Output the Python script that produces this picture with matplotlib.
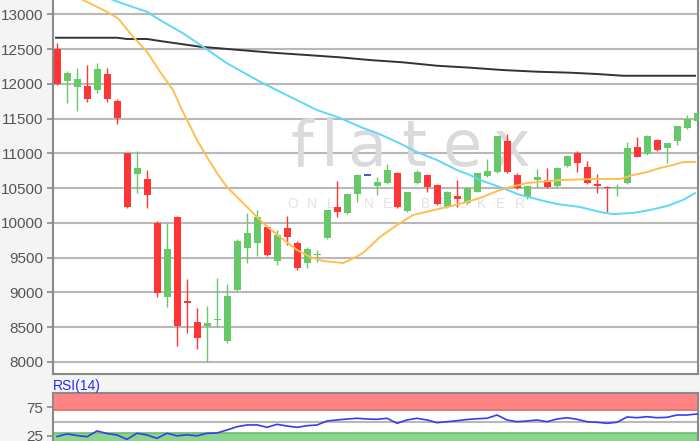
import matplotlib
matplotlib.use('Agg')
import matplotlib.pyplot as plt
import numpy as np

# ---------------- data ----------------
opens = [12500, 12045, 11950, 11975, 11910, 12140, 11757, 11000, 10700, 10630,
         10000, 8930, 10090, 8870, 8575, 8515, 8610, 8300, 9035, 9637,
         9710, 9940, 9450, 9925, 9710, 9420, 9545, 9780, 10225, 10140,
         10415, 10690, 10530, 10570, 10715, 10170, 10570, 10690, 10545, 10225,
         10385, 10285, 10450, 10675, 10730, 11175, 10690, 10370, 10610, 10615,
         10530, 10815, 11005, 10800, 10555, 10520, 10510, 10570, 11090, 10990,
         11190, 11075, 11175, 11365, 11465]
closes = [12000, 12160, 12065, 11780, 12215, 11780, 11505, 10230, 10785, 10400,
          8985, 9625, 8515, 8860, 8345, 8555, 8625, 8950, 9740, 9853,
          10085, 9535, 9825, 9795, 9350, 9620, 9555, 10185, 10155, 10415,
          10690, 10690, 10585, 10760, 10225, 10445, 10730, 10515, 10270, 10445,
          10340, 10500, 10710, 10745, 11250, 10730, 10500, 10530, 10655, 10515,
          10790, 10960, 10860, 10570, 10530, 10510, 10530, 11075, 10945, 11250,
          11045, 11150, 11390, 11490, 11580]
highs = [12590, 12185, 12225, 12275, 12295, 12225, 11780, 11000, 11040, 10760,
         10030, 10000, 10100, 9185, 8770, 8805, 9200, 9120, 9765, 10140,
         10185, 9960, 9895, 10100, 9740, 9650, 9610, 10190, 10600, 10420,
         10700, 10690, 10660, 10845, 10730, 10450, 10760, 10700, 10555, 10455,
         10615, 10510, 10720, 10915, 11255, 11280, 10710, 10545, 10775, 10790,
         10800, 10970, 11035, 10890, 10700, 10525, 10560, 11160, 11235, 11260,
         11200, 11155, 11400, 11550, 11600]
lows = [11980, 11720, 11610, 11740, 11870, 11740, 11420, 10210, 10425, 10210,
        8930, 8795, 8230, 8420, 8180, 8000, 8505, 8275, 9020, 9420,
        9520, 9520, 9390, 9680, 9320, 9350, 9435, 9770, 10085, 10130,
        10300, 10690, 10400, 10555, 10215, 10160, 10560, 10445, 10260, 10215,
        10230, 10270, 10440, 10665, 10720, 10715, 10490, 10340, 10515, 10505,
        10520, 10805, 10730, 10555, 10430, 10155, 10385, 10560, 10940, 10980,
        11040, 10860, 11120, 11350, 11455]

# moving averages (candle index, value)
ma_fast_x = [1.3, 2.6, 5.0, 6.1, 7.6, 9.0, 10.3, 11.6, 12.5, 13.0, 14.0, 15.0, 16.0, 17.0,
             18.0, 20.6, 22.3, 24.0, 25.3, 26.6, 28.6, 29.3, 30.6, 32.3, 34.0, 35.6, 37.3,
             39.0, 40.6, 42.3, 44.3, 45.3, 47.0, 50.3, 53.6, 56.3, 57.6, 59.0, 60.3, 61.6,
             62.6, 63.8]
ma_fast_y = [13321, 13206, 13037, 12942, 12678, 12462, 12174, 11911, 11623, 11479, 11191,
             10946, 10716, 10514, 10371, 9997, 9796, 9609, 9508, 9450, 9421, 9465, 9565,
             9796, 9968, 10112, 10170, 10227, 10285, 10357, 10472, 10514, 10572, 10616,
             10630, 10630, 10687, 10730, 10788, 10831, 10874, 10874]

ma_mid_x = [4.3, 5.6, 7.0, 9.0, 10.0, 12.6, 14.6, 17.0, 20.3, 23.3, 26.0, 28.3, 30.6, 32.0,
            34.0, 36.0, 38.0, 40.0, 41.3, 42.3, 44.3, 46.3, 48.3, 50.0, 52.3, 54.3, 55.6,
            57.6, 59.3, 61.0, 62.6, 63.8]
ma_mid_y = [13292, 13206, 13134, 13037, 12942, 12727, 12534, 12295, 12030, 11814, 11623,
            11508, 11364, 11292, 11162, 11018, 10903, 10759, 10687, 10616, 10514, 10400,
            10328, 10270, 10227, 10155, 10126, 10141, 10184, 10241, 10328, 10428]

ma_slow_x = [-0.1, 6.0, 7.0, 9.0, 10.3, 14.3, 18.3, 21.6, 25.0, 28.3, 31.3, 34.6, 38.0,
             41.3, 44.6, 48.0, 51.3, 54.0, 56.6, 63.8]
ma_slow_y = [12663, 12663, 12645, 12645, 12616, 12534, 12486, 12447, 12414, 12381, 12342,
             12309, 12260, 12232, 12198, 12174, 12160, 12141, 12116, 12116]

rsi = [23.4, 27.8, 25.2, 23.0, 33.2, 28.7, 26.1, 18.4, 29.1, 26.1,
       20.2, 29.1, 24.6, 26.4, 24.6, 29.1, 29.6, 34.9, 40.8, 43.8,
       44.0, 39.7, 45.0, 42.0, 39.7, 42.6, 43.8, 50.9, 52.7, 54.4,
       55.7, 54.4, 53.9, 55.7, 46.8, 52.7, 55.7, 52.7, 47.9, 49.6,
       51.4, 53.5, 54.9, 55.7, 61.5, 52.7, 49.6, 50.9, 52.7, 49.6,
       54.4, 56.7, 53.9, 49.6, 48.6, 46.8, 48.6, 58.0, 56.7, 58.5,
       56.7, 57.4, 61.5, 61.5, 63.3]

price_ticks = [8000, 8500, 9000, 9500, 10000, 10500, 11000, 11500, 12000, 12500, 13000]
rsi_ticks = [25, 75]

# ---------------- figure ----------------
W, H = 700, 441
fig = plt.figure(figsize=(W / 100, H / 100), dpi=100, facecolor='#f4f4f4')
plt.rcParams['font.family'] = ['Liberation Sans', 'DejaVu Sans']

ax = fig.add_axes([53 / W, (H - 374) / H, 645 / W, 374 / H])
ax.set_facecolor('white')
ax.set_xlim(-0.4, 64.1)
ax.set_ylim(7824, 13206)
ax.set_yticks(price_ticks)
ax.set_yticklabels([str(t) for t in price_ticks])
ax.set_xticks([])
ax.grid(axis='y', color='#b8b8b8', lw=1.5)
ax.set_axisbelow(True)
for s in ['left', 'bottom', 'right']:
    ax.spines[s].set_color('#8a8a8a')
    ax.spines[s].set_linewidth(1.5)
ax.spines['top'].set_visible(False)
ax.tick_params(axis='y', colors='#8a8a8a', labelcolor='#555555', labelsize=11,
               length=4, width=1.2, pad=3)

# watermark
wm_letters = 'flatex'
wm_pos = [0.385, 0.43, 0.487, 0.56, 0.635, 0.71]
for ch, px in zip(wm_letters, wm_pos):
    ax.text(px, 0.555, ch, transform=ax.transAxes, fontsize=46, color='#dadada',
            ha='center', va='baseline', zorder=0.6, family='DejaVu Sans')
sub = 'ONLINE BROKER'
for k, ch in enumerate(sub):
    ax.text(0.372 + k * 0.0293, 0.445, ch, transform=ax.transAxes, fontsize=10,
            color='#e3e3e3', ha='center', va='baseline', zorder=0.6)

x = np.arange(len(opens))
o = np.array(opens, float)
c = np.array(closes, float)
h = np.array(highs, float)
l = np.array(lows, float)
colors = np.where(c > o, '#66c866', np.where(c < o, '#ff3434', '#5a4fd8'))
ax.vlines(x, l, h, colors=colors, lw=1.0, zorder=2)
body_bottom = np.minimum(o, c)
body_h = np.maximum(np.abs(c - o), 22)
ax.bar(x, body_h, bottom=body_bottom - np.where(np.abs(c - o) < 22, 11, 0),
       width=0.7, color=colors, zorder=3, linewidth=0)

ax.plot(ma_slow_x, ma_slow_y, color='#333333', lw=1.4, zorder=4)
ax.plot(ma_mid_x, ma_mid_y, color='#5fd8f8', lw=1.4, zorder=4)
ax.plot(ma_fast_x, ma_fast_y, color='#ffbe50', lw=1.4, zorder=4)

# ---------------- RSI panel ----------------
rtop, rbot = 393.3, 449.7
ax2 = fig.add_axes([53 / W, (H - rbot) / H, 645 / W, (rbot - rtop) / H])
ax2.set_facecolor('white')
ax2.set_xlim(-0.4, 64.1)
ax2.set_ylim(0, 100)
ax2.axhspan(70, 100, color='#ff8585', lw=0, zorder=1)
ax2.axhline(70.5, color='#e06a6a', lw=1.2, zorder=1.5)
ax2.axhspan(0, 30, color='#8ad68a', lw=0, zorder=1)
ax2.axhline(29.5, color='#6cc06c', lw=1.2, zorder=1.5)
ax2.axhline(50, color='#b8b8b8', lw=1.5, zorder=1.5)
ax2.plot(x, rsi, color='#3a3af0', lw=1.2, zorder=3)
ax2.set_yticks(rsi_ticks)
ax2.set_yticklabels([str(t) for t in rsi_ticks])
ax2.set_xticks([])
for s in ax2.spines.values():
    s.set_color('#8a8a8a')
    s.set_linewidth(1.5)
ax2.tick_params(axis='y', colors='#8a8a8a', labelcolor='#555555', labelsize=11,
                length=4, width=1.2, pad=3)
fig.text(53 / W, (H - 390) / H, 'RSI(14)', color='#2a2af0', fontsize=10,
         ha='left', va='baseline')

fig.savefig('out.png', dpi=100, facecolor=fig.get_facecolor())
